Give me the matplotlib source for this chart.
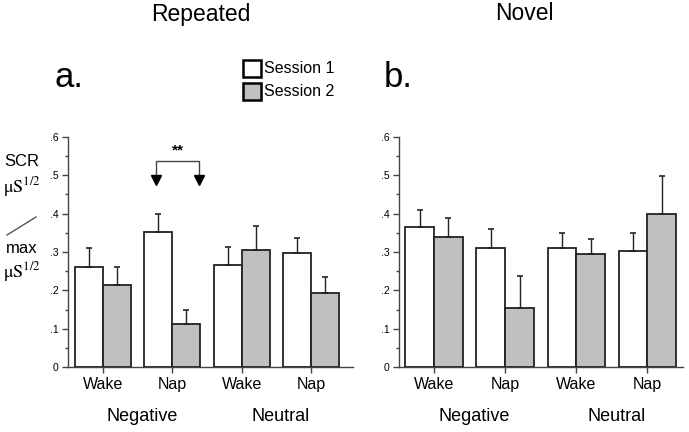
import matplotlib
matplotlib.use('Agg')
import matplotlib.pyplot as plt
from matplotlib.patches import Rectangle
from matplotlib.lines import Line2D

plt.rcParams['font.family'] = ['Liberation Sans', 'DejaVu Sans']
plt.rcParams['mathtext.fontset'] = 'stix'

conditions = ['Wake', 'Nap', 'Wake', 'Nap']
groups = ['Negative', 'Neutral']
sessions = ['Session 1', 'Session 2']

# Repeated (panel a)
rep_s1 = [0.262, 0.353, 0.267, 0.297]
rep_s1_err = [0.048, 0.046, 0.045, 0.039]
rep_s2 = [0.214, 0.113, 0.306, 0.193]
rep_s2_err = [0.048, 0.037, 0.063, 0.042]

# Novel (panel b)
nov_s1 = [0.364, 0.311, 0.311, 0.303]
nov_s1_err = [0.045, 0.050, 0.038, 0.046]
nov_s2 = [0.338, 0.155, 0.296, 0.398]
nov_s2_err = [0.050, 0.082, 0.039, 0.101]

W = 0.404
EDGE = '#222222'
GRAY = '#c0c0c0'

fig = plt.figure(figsize=(6.89, 4.32), dpi=100)
ax1 = fig.add_axes([68/689, 65/432, 285/689, 230/432])
ax2 = fig.add_axes([399/689, 65/432, 284/689, 230/432])


def panel(ax, s1, e1, s2, e2, xlim):
    x = list(range(len(conditions)))
    x1 = [i - W for i in x]
    ax.bar(x1, s1, W, align='edge', color='white', edgecolor=EDGE, linewidth=1.3, zorder=2)
    ax.bar(x, s2, W, align='edge', color=GRAY, edgecolor=EDGE, linewidth=1.3, zorder=2)
    ax.errorbar([i - W/2 for i in x], s1, yerr=[[0]*4, e1], fmt='none', ecolor=EDGE,
                elinewidth=1, capsize=2, capthick=1.2, zorder=3)
    ax.errorbar([i + W/2 for i in x], s2, yerr=[[0]*4, e2], fmt='none', ecolor=EDGE,
                elinewidth=1, capsize=2, capthick=1.2, zorder=3)
    ax.set_xlim(*xlim)
    ax.set_ylim(0, 0.6)
    ax.spines['top'].set_visible(False)
    ax.spines['right'].set_visible(False)
    for s in ['left', 'bottom']:
        ax.spines[s].set_color('#444444')
        ax.spines[s].set_linewidth(1.0)
    ax.set_xticks(x)
    ax.set_xticklabels(conditions, fontsize=11.5)
    ax.set_yticks([0, 0.1, 0.2, 0.3, 0.4, 0.5, 0.6])
    ax.set_yticklabels(['0', '.1', '.2', '.3', '.4', '.5', '.6'], fontsize=7.5)
    ax.set_yticks([0.05, 0.15, 0.25, 0.35, 0.45, 0.55], minor=True)
    ax.tick_params(axis='y', which='major', length=4, width=1, color='#444444', pad=3)
    ax.tick_params(axis='y', which='minor', length=2.5, width=1, color='#444444')
    ax.tick_params(axis='x', length=4, width=1, color='#444444', pad=3)
    ax.set_facecolor('none')
    for gx, g in zip([0.5, 2.5], groups):
        ax.text(gx + 0.06, -0.128, g, fontsize=13, ha='center', va='center',
                transform=ax.transData, clip_on=False)


panel(ax1, rep_s1, rep_s1_err, rep_s2, rep_s2_err, (-0.505, 3.607))
panel(ax2, nov_s1, nov_s1_err, nov_s2, nov_s2_err, (-0.492, 3.50))

# significance bracket
ax1.plot([0.77, 0.77, 1.38, 1.38], [0.49, 0.537, 0.537, 0.49], color='#444444', lw=1, clip_on=False)
ax1.plot([0.77, 1.38], [0.487, 0.487], linestyle='none', marker='v', color='black',
         markersize=6.5, clip_on=False)
ax1.text(1.075, 0.565, '**', ha='center', va='center', fontsize=11, fontweight='bold')

# titles and panel letters
fig.text(201/689, 1 - 14/432, 'Repeated', fontsize=16.5, ha='center', va='center')
fig.text(524/689, 1 - 14/432, 'Novel', fontsize=16.5, ha='center', va='center')
fig.text(55/689, 1 - 87/432, 'a.', fontsize=25, ha='left', va='baseline')
fig.text(384/689, 1 - 87/432, 'b.', fontsize=25, ha='left', va='baseline')

# legend
for k, (lab, col) in enumerate(zip(sessions, ['white', GRAY])):
    y = 1 - (77 + 23*k)/432
    fig.patches.append(Rectangle((243/689, y), 18/689, 17/432, transform=fig.transFigure,
                                 facecolor=col, edgecolor='black', linewidth=1.8))
    fig.text(264/689, y + 8.5/432, lab, fontsize=11.5, ha='left', va='center')

# y label
fig.text(22/689, 1 - 161/432, 'SCR', fontsize=12, ha='center', va='center')
fig.text(22/689, 1 - 187/432, r'$\mathrm{\mu S}^{1/2}$', fontsize=13, ha='center', va='center')
fig.lines.append(Line2D([7/689, 36/689], [1 - 235/432, 1 - 217/432], transform=fig.transFigure,
                        color='#555555', lw=1))
fig.text(22/689, 1 - 249/432, 'max', fontsize=12, ha='center', va='center')
fig.text(22/689, 1 - 272/432, r'$\mathrm{\mu S}^{1/2}$', fontsize=13, ha='center', va='center')

fig.savefig('out.png', dpi=100)
